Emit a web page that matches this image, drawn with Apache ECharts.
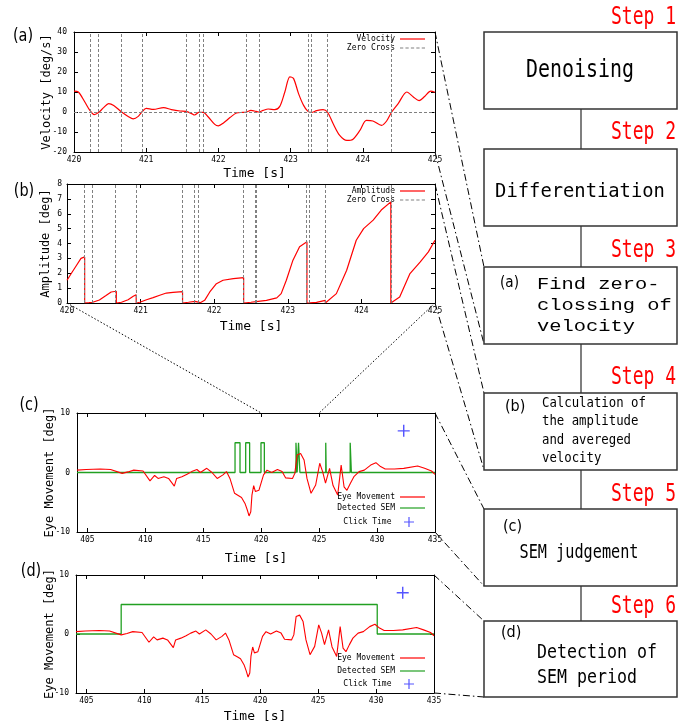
<!DOCTYPE html>
<html><head><meta charset="utf-8">
<script src="https://cdn.jsdelivr.net/npm/echarts@6/dist/echarts.min.js"></script>
<style>html,body{margin:0;padding:0;background:#fff}#c{width:699px;height:727px}</style>
</head><body><div id="c"></div>
<script>
// ---- data ----
const velocity = [[420.0,10.4],[420.06,10],[420.15,5],[420.22,0.8],[420.28,-1.3],[420.34,-0.3],[420.41,2.2],[420.48,4.2],[420.55,3.3],[420.66,0],[420.75,-2.2],[420.82,-3.4],[420.89,-2.2],[420.94,0],[421.0,1.8],[421.1,1.3],[421.24,2.2],[421.35,1.2],[421.47,0.5],[421.55,0.3],[421.63,-0.8],[421.67,-1.5],[421.73,-0.2],[421.79,-0.2],[421.86,-2.5],[421.95,-6.2],[422.0,-6.9],[422.07,-5.5],[422.16,-2.8],[422.25,-0.5],[422.34,-0.2],[422.39,0],[422.45,0.8],[422.5,0.5],[422.56,0],[422.62,0.8],[422.69,1.5],[422.78,1.2],[422.85,2.8],[422.92,10],[422.99,17.6],[423.04,16.8],[423.11,9.2],[423.18,3.3],[423.24,0.3],[423.29,-0.2],[423.36,0.7],[423.45,1.2],[423.51,0],[423.59,-5.9],[423.68,-11.7],[423.78,-14.2],[423.86,-13.7],[423.96,-9.2],[424.05,-4.2],[424.14,-4.5],[424.26,-6.7],[424.33,-4.5],[424.4,0],[424.49,4.2],[424.61,10],[424.7,7.5],[424.78,5.7],[424.86,7.9],[424.94,10.4],[425.0,9.9]];
const zeroCross = [420.23,420.34,420.66,420.94,421.56,421.73,421.79,422.39,422.56,422.57,423.25,423.29,423.51,424.40];
const amplitude = [[420.00,1.53],[420.06,2.0],[420.13,2.54],[420.19,3.0],[420.24,3.1],[420.24,0],[420.30,0.02],[420.35,0.05],[420.35,0],[420.44,0.2],[420.53,0.5],[420.60,0.74],[420.67,0.79],[420.67,0],[420.74,0.05],[420.83,0.22],[420.90,0.45],[420.94,0.56],[420.94,0],[420.99,0.05],[421.08,0.22],[421.17,0.36],[421.26,0.52],[421.35,0.67],[421.44,0.72],[421.57,0.76],[421.57,0],[421.65,0.05],[421.74,0.11],[421.74,0],[421.81,0.02],[421.81,0],[421.87,0.18],[421.94,0.74],[422.03,1.3],[422.12,1.53],[422.26,1.64],[422.40,1.71],[422.40,0],[422.50,0.05],[422.57,0.09],[422.57,0],[422.71,0.18],[422.85,0.34],[422.91,0.63],[422.98,1.53],[423.07,2.88],[423.16,3.78],[423.26,4.11],[423.26,0],[423.30,0.01],[423.30,0],[423.39,0.04],[423.51,0.18],[423.51,0],[423.66,0.63],[423.80,2.2],[423.93,4.22],[424.03,5.0],[424.16,5.57],[424.27,6.25],[424.40,6.8],[424.40,0],[424.52,0.4],[424.66,1.98],[424.80,2.76],[424.91,3.44],[425.00,4.22]];
const eyeMovement = [[404.1,0.4],[404.9,0.5],[406.1,0.6],[407.0,0.5],[408.0,-0.15],[408.5,0.1],[409.0,0.4],[409.8,0.25],[410.4,-1.4],[410.8,-0.5],[411.1,-1.0],[411.6,-0.7],[412.0,-1.0],[412.5,-2.3],[412.7,-1.0],[413.15,-0.7],[413.6,-0.3],[414.0,0.15],[414.45,0.5],[414.75,0],[415.3,0.7],[415.75,0],[416.2,-1.0],[416.7,-0.4],[417.0,0.15],[417.3,-1.0],[417.7,-3.5],[418.05,-3.9],[418.3,-4.2],[418.6,-5.2],[418.8,-6.3],[418.95,-7.3],[419.1,-6.6],[419.2,-3.8],[419.35,-2.2],[419.5,-3.2],[419.8,-3.0],[420.2,-0.4],[420.5,0.4],[420.9,0],[421.4,0.5],[421.8,0.15],[422.1,-0.9],[422.7,-1.0],[422.9,-0.15],[423.1,2.95],[423.4,3.2],[423.7,2.1],[423.95,-1.0],[424.3,-3.5],[424.7,-2.1],[425.05,1.55],[425.3,0.15],[425.55,-1.8],[425.9,0.7],[426.2,-2.2],[426.6,-3.8],[426.9,1.25],[427.15,-2.4],[427.4,-3.0],[427.7,-1.8],[428.0,-0.7],[428.45,0.15],[428.9,0.4],[429.45,1.25],[429.9,1.65],[430.3,1.0],[430.7,0.6],[431.5,0.6],[432.3,0.7],[433.5,1.1],[434.1,0.7],[434.7,0.25],[435.0,-0.3]];
const semDetected = [[404.1,0],[417.74,0],[417.74,5],[418.17,5],[418.17,0],[418.66,0],[418.66,5],[419.0,5],[419.0,0],[419.98,0],[419.98,5],[420.27,5],[420.27,0],[423.0,0],[423.0,5],[423.1,5],[423.1,0],[423.22,0],[423.22,5],[423.34,5],[423.34,0],[425.57,0],[425.57,5],[425.61,5],[425.61,0],[427.68,0],[427.68,5],[427.78,5],[427.78,0],[435,0]];
const semPeriod = [[404.1,0],[408.0,0],[408.0,5],[430.1,5],[430.1,0],[435,0]];
const clickTime = [[432.3,7]];
const ticksLong = [405,410,415,420,425,430,435];
const stepLabels = ['Step 1','Step 2','Step 3','Step 4','Step 5','Step 6'];

// ---- layout ----
const MONO = 'DejaVu Sans Mono';
const grids = [
  {left:74, top:32, width:361, height:120},
  {left:67, top:184, width:368, height:119},
  {left:77, top:413, width:358, height:119},
  {left:76, top:575, width:358, height:118}
];
const xr = [[420,425,1],[420,425,1],[404.1,435,null],[404.1,435,null]];
const yr = [[-20,40,10],[0,8,1],[-10,10,10],[-10,10,10]];
const xNameGap = [15,17,20,17];
const yNames = ['Velocity [deg/s]','Amplitude [deg]','Eye Movement [deg]','Eye Movement [deg]'];
const yNameGap = [21,15,21,20];
const yLabelMargin = [7,5,7,7];

function xAx(i, top){
  const [min,max,iv] = xr[i];
  const ax = {type:'value', gridIndex:i, min:min, max:max, position: top?'top':'bottom',
    axisLine:{show:true,onZero:false,lineStyle:{color:'#000',width:1}},
    axisTick:{show:true,inside:true,length:4,lineStyle:{color:'#000'}},
    splitLine:{show:false},
    axisLabel:{show:!top,fontFamily:MONO,fontSize:8,color:'#000',margin:4}};
  if (iv) ax.interval = iv; else { ax.axisLabel.customValues = ticksLong; ax.axisTick.customValues = ticksLong; }
  if (!top){ ax.name='Time [s]'; ax.nameLocation='middle'; ax.nameGap=xNameGap[i]; ax.nameMoveOverlap=false;
    ax.nameTextStyle={fontFamily:MONO,fontSize:13,color:'#000'}; }
  return ax;
}
function yAx(i, right){
  const [min,max,iv] = yr[i];
  const ax = {type:'value', gridIndex:i, min:min, max:max, interval:iv, position: right?'right':'left',
    axisLine:{show:true,onZero:false,lineStyle:{color:'#000',width:1}},
    axisTick:{show:true,inside:true,length:4,lineStyle:{color:'#000'}},
    splitLine:{show:false},
    axisLabel:{show:!right,fontFamily:MONO,fontSize:8,color:'#000',margin:yLabelMargin[i]}};
  if (!right){ ax.name=yNames[i]; ax.nameLocation='middle'; ax.nameGap=yNameGap[i]; ax.nameMoveOverlap=false;
    ax.nameTextStyle={fontFamily:MONO,fontSize:12,color:'#000'}; }
  return ax;
}
const xAxis = [0,1,2,3].map(i=>xAx(i,false)).concat([0,1,2,3].map(i=>xAx(i,true)));
const yAxis = [0,1,2,3].map(i=>yAx(i,false)).concat([0,1,2,3].map(i=>yAx(i,true)));

const RED='#ff0000', GREEN='#22a022', BLUE='#2a2aff', GRAY='#808080';
const PLUS='path://M4.4,0H5.6V4.4H10V5.6H5.6V10H4.4V5.6H0V4.4H4.4Z';
const SOLID='path://M0,0H25V1.2H0Z';
let dashP='path://';
for (let s=0;s<25;s+=5){ dashP += 'M'+s+',0H'+(s+3)+'V1H'+s+'Z'; }
const DASHED=dashP;
const zcStyle = {color:GRAY,width:1,type:[3,2]};
function zeroSeries(idx, withH){
  const d = zeroCross.map(v=>({xAxis:v}));
  if (withH) d.push({yAxis:0});
  return {name:'Zero Cross',type:'line',xAxisIndex:idx,yAxisIndex:idx,data:[],z:1,symbol:'none',
    lineStyle:zcStyle, itemStyle:{color:GRAY},
    markLine:{silent:true,symbol:'none',label:{show:false},lineStyle:zcStyle,animation:false,data:d}};
}
const series = [
  {name:'Velocity',type:'line',xAxisIndex:0,yAxisIndex:0,data:velocity,symbol:'none',smooth:0.3,z:3,lineStyle:{color:RED,width:1.2},itemStyle:{color:RED}},
  zeroSeries(0,true),
  {name:'Amplitude',type:'line',xAxisIndex:1,yAxisIndex:1,data:amplitude,symbol:'none',z:3,lineStyle:{color:RED,width:1.2},itemStyle:{color:RED}},
  zeroSeries(1,false)
];
[2,3].forEach(function(i){
  series.push({name:'Eye Movement',type:'line',xAxisIndex:i,yAxisIndex:i,data:eyeMovement,symbol:'none',z:3,lineStyle:{color:RED,width:1.1},itemStyle:{color:RED}});
  series.push({name:'Detected SEM',type:'line',xAxisIndex:i,yAxisIndex:i,data:i===2?semDetected:semPeriod,symbol:'none',z:2,lineStyle:{color:GREEN,width:1.3},itemStyle:{color:GREEN}});
  series.push({name:'Click Time',type:'scatter',xAxisIndex:i,yAxisIndex:i,data:clickTime,symbol:PLUS,symbolSize:12,z:4,itemStyle:{color:BLUE}});
});

function leg(name, cy, icon){
  const isPlus = icon===PLUS;
  return {data:[{name:name,icon:icon}], right:isPlus?285:274, top:cy-5, orient:'vertical', align:'right',
    itemWidth:25, itemHeight:10, padding:0, selectedMode:false,
    textStyle:{fontFamily:MONO,fontSize:8,color:'#000'}};
}
const legend = [leg('Velocity',40,SOLID),leg('Zero Cross',49,DASHED),leg('Amplitude',192,SOLID),leg('Zero Cross',201,DASHED),
  leg('Eye Movement',498,SOLID),leg('Detected SEM',509,SOLID),leg('Click Time',522,PLUS),
  leg('Eye Movement',659,SOLID),leg('Detected SEM',672,SOLID),leg('Click Time',684,PLUS)];

const chart = echarts.init(document.getElementById('c'), null, {renderer:'canvas'});
chart.setOption({
  animation:false, backgroundColor:'#fff',
  grid: grids.map(g=>Object.assign({containLabel:false,outerBoundsMode:'none',show:false},g)),
  xAxis:xAxis, yAxis:yAxis, legend:legend, series:series
});

// ---- flowchart & connectors (decoration) ----
const boxes = [[484,32,193,77],[484,149,193,77],[484,267,193,77],[484,393,193,77],[484,509,193,77],[484,621,193,76]];
const stepY = [18,133,251,378,495,607];
const G = [];
function txt(x,y,s,font,opts){
  opts = opts||{};
  G.push({type:'text',x:x,y:y,scaleX:opts.sx||1,z:20,style:{text:s,font:font,fill:opts.fill||'#000',
    textAlign:opts.align||'left',align:opts.align||'left',textVerticalAlign:'middle',verticalAlign:'middle'}});
}
function ln(x1,y1,x2,y2,dash,w,col){
  G.push({type:'line',z:10,shape:{x1:x1,y1:y1,x2:x2,y2:y2},style:{stroke:col||'#000',lineWidth:w||1,lineDash:dash||null}});
}
for (let k=0;k<boxes.length-1;k++){ ln(581,boxes[k][1]+boxes[k][3],581,boxes[k+1][1],null,1.5,'#555'); }
boxes.forEach(function(b){ G.push({type:'rect',z:15,shape:{x:b[0],y:b[1],width:b[2],height:b[3]},style:{fill:'#fff',stroke:'#333',lineWidth:1.5}}); });
stepLabels.forEach(function(s,k){ txt(676,stepY[k],s,'24px "'+MONO+'"',{align:'right',sx:0.75,fill:'#ff0000'}); });
txt(580,71,'Denoising','24px "'+MONO+'"',{align:'center',sx:0.83});
txt(580,192,'Differentiation','20px "'+MONO+'"',{align:'center',sx:0.94});
txt(500,283,'(a)','16px "DejaVu Sans"',{sx:0.85});
['Find zero-','clossing of','velocity'].forEach(function(s,k){ txt(537,284+k*21,s,'17px "Liberation Mono"',{sx:1.2}); });
txt(505,407,'(b)','16px "DejaVu Sans"',{sx:0.9});
['Calculation of','the amplitude','and avereged','velocity'].forEach(function(s,k){ txt(542,403+k*18.5,s,'14px "'+MONO+'"',{sx:0.88}); });
txt(503,527,'(c)','16px "DejaVu Sans"',{sx:0.9});
txt(579,553,'SEM judgement','19px "'+MONO+'"',{align:'center',sx:0.8});
txt(501,633,'(d)','16px "DejaVu Sans"',{sx:0.9});
txt(537,653,'Detection of','20px "'+MONO+'"',{sx:0.83});
txt(537,678,'SEM period','20px "'+MONO+'"',{sx:0.83});
[['(a)',23,37],['(b)',24,192],['(c)',29,406],['(d)',31,572]].forEach(function(p){ txt(p[1],p[2],p[0],'17px "DejaVu Sans"',{align:'center',sx:0.85}); });
const DD=[7,3,1.5,3];
const boxFor=[2,3,4,5];
grids.forEach(function(g,i){
  const b=boxes[boxFor[i]];
  const xr_=g.left+g.width;
  ln(xr_,g.top,b[0],b[1],DD,1);
  ln(xr_,g.top+g.height,b[0],b[1]+b[3],DD,1);
});
const pL = chart.convertToPixel({xAxisIndex:2,yAxisIndex:2},[420,10]);
const pR = chart.convertToPixel({xAxisIndex:2,yAxisIndex:2},[425,10]);
const gb = grids[1];
ln(gb.left,gb.top+gb.height,pL[0],pL[1],[1.5,2],1);
ln(gb.left+gb.width,gb.top+gb.height,pR[0],pR[1],[1.5,2],1);
chart.setOption({graphic:{elements:G}});
</script></body></html>
